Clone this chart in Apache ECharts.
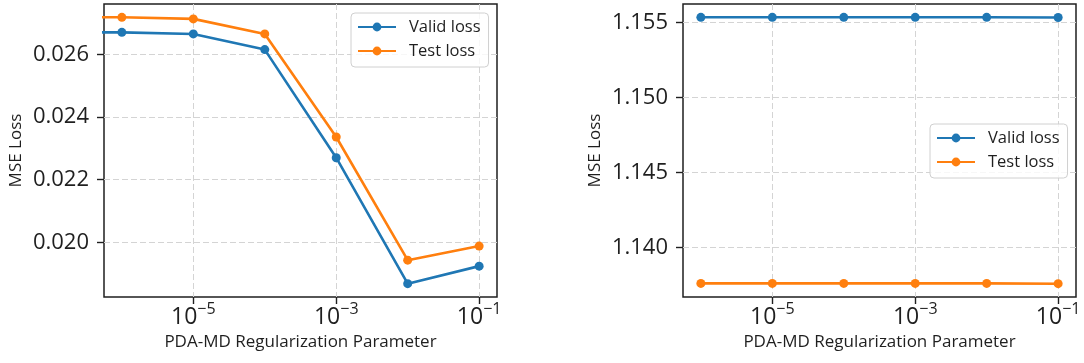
<!DOCTYPE html>
<html>
<head>
<meta charset="utf-8">
<script src="https://cdn.jsdelivr.net/npm/echarts@6/dist/echarts.min.js"></script>
<style>
  html, body { margin: 0; padding: 0; background: #fff; }
  #chart { width: 1084px; height: 363px; }
</style>
</head>
<body>
<div id="chart"></div>
<script>
// Regularization strengths on the log x axis
const lambdas = [1e-6, 1e-5, 1e-4, 1e-3, 1e-2, 1e-1];
const xTickValues = [1e-5, 1e-3, 1e-1];

// λ = 0 run of the left panel: zero has no place on a log axis, so it is
// clipped to a tiny positive value and its segment enters from the frame edge
const zeroLambda = 1e-300;
const validLossZeroA = 0.02670;
const testLossZeroA = 0.02718;

// Left panel
const validLossA = [0.02670, 0.02665, 0.02615, 0.02270, 0.01868, 0.01924];
const testLossA  = [0.02718, 0.02713, 0.02665, 0.02336, 0.01943, 0.01988];
const yTicksA = [0.020, 0.022, 0.024, 0.026];

// Right panel
const validLossB = [1.15533, 1.15533, 1.15533, 1.15533, 1.15533, 1.15532];
const testLossB  = [1.13762, 1.13762, 1.13762, 1.13762, 1.13762, 1.13760];
const yTicksB = [1.140, 1.145, 1.150, 1.155];

const seriesNames = ['Valid loss', 'Test loss'];
const xName = 'PDA-MD Regularization Parameter';
const yName = 'MSE Loss';

const FONT = '"Open Sans", "Noto Sans", sans-serif';
const INK = '#1f1f1f';
const BLUE = '#1f77b4';
const ORANGE = '#ff7f0e';

// 5% padding on both ends, as in an auto-scaled plot
function paddedRange(values, frac) {
  const lo = Math.min(...values), hi = Math.max(...values);
  const pad = (hi - lo) * frac;
  return [lo - pad, hi + pad];
}
const logX = lambdas.map(Math.log10);
const xExp = paddedRange(logX, 0.05);
const xMin = Math.pow(10, xExp[0]);
const xMax = Math.pow(10, xExp[1]);
const yRangeA = paddedRange(validLossA.concat(testLossA), 0.05);
const yRangeB = paddedRange(validLossB.concat(testLossB), 0.05);

const grids = [
  { left: 104, top: 4, width: 393, height: 293 },
  { left: 683, top: 4, width: 393, height: 293 }
];

function xAxis(gridIndex) {
  return {
    type: 'log', logBase: 10, gridIndex, min: xMin, max: xMax,
    name: xName, nameLocation: 'middle', nameGap: 31,
    nameTextStyle: { fontFamily: FONT, fontSize: 17, color: INK },
    axisLine: { show: false },
    axisTick: { show: true, length: 7, customValues: xTickValues,
                lineStyle: { color: INK, width: 1.4 } },
    axisLabel: {
      customValues: xTickValues, margin: 4,
      formatter: v => {
        const e = Math.round(Math.log10(v));
        return '{b|10}{e|' + (e < 0 ? '\u2212' : '') + Math.abs(e) + '}';
      },
      rich: {
        b: { fontFamily: FONT, fontSize: 23, lineHeight: 33, color: INK },
        e: { fontFamily: FONT, fontSize: 16, lineHeight: 11, verticalAlign: 'top', color: INK }
      }
    },
    splitLine: { show: true, lineStyle: { color: '#d4d4d4', width: 1, type: [6, 3] } }
  };
}

function yAxis(gridIndex, range, ticks) {
  return {
    type: 'value', gridIndex, min: range[0], max: range[1],
    name: yName, nameLocation: 'middle', nameGap: 79, nameRotate: 90,
    nameTextStyle: { fontFamily: FONT, fontSize: 17, color: INK },
    axisLine: { show: false },
    axisTick: { show: true, length: 7, customValues: ticks,
                lineStyle: { color: INK, width: 1.4 } },
    axisLabel: {
      customValues: ticks, margin: 15,
      fontFamily: FONT, fontSize: 22, color: INK,
      formatter: v => v.toFixed(3)
    },
    splitLine: { show: true, lineStyle: { color: '#d4d4d4', width: 1, type: [6, 3] } }
  };
}

function lineSeries(name, color, idx, values, zeroValue) {
  const pts = lambdas.map((x, i) => [x, values[i]]);
  if (zeroValue !== undefined) pts.unshift({ value: [zeroLambda, zeroValue], symbol: 'none' });
  return {
    name, type: 'line', xAxisIndex: idx, yAxisIndex: idx,
    data: pts, color,
    symbol: 'circle', symbolSize: 9, showSymbol: true,
    lineStyle: { width: 2.6, color }, itemStyle: { color },
    clip: true, animation: false, z: 3
  };
}

function legend(left, top) {
  return {
    data: seriesNames, orient: 'vertical', left, top,
    itemWidth: 38, itemHeight: 11, itemGap: 6,
    padding: [5, 8, 7, 6],
    backgroundColor: 'rgba(255,255,255,0.8)',
    borderColor: '#d0d0d0', borderWidth: 1, borderRadius: 4,
    textStyle: { fontFamily: FONT, fontSize: 16.5, color: INK, lineHeight: 18, padding: [0, 0, 0, 8] },
    selectedMode: false
  };
}

const chart = echarts.init(document.getElementById('chart'), null, { renderer: 'canvas' });
chart.setOption({
  animation: false,
  backgroundColor: '#fff',
  grid: grids.map(g => Object.assign({ show: true, borderColor: INK, borderWidth: 1.5,
                                       backgroundColor: 'transparent' }, g)),
  xAxis: [xAxis(0), xAxis(1)],
  yAxis: [yAxis(0, yRangeA, yTicksA), yAxis(1, yRangeB, yTicksB)],
  legend: [legend(351, 13), legend(930, 124)],
  series: [
    lineSeries(seriesNames[0], BLUE, 0, validLossA, validLossZeroA),
    lineSeries(seriesNames[1], ORANGE, 0, testLossA, testLossZeroA),
    lineSeries(seriesNames[0], BLUE, 1, validLossB),
    lineSeries(seriesNames[1], ORANGE, 1, testLossB)
  ]
});
</script>
</body>
</html>
